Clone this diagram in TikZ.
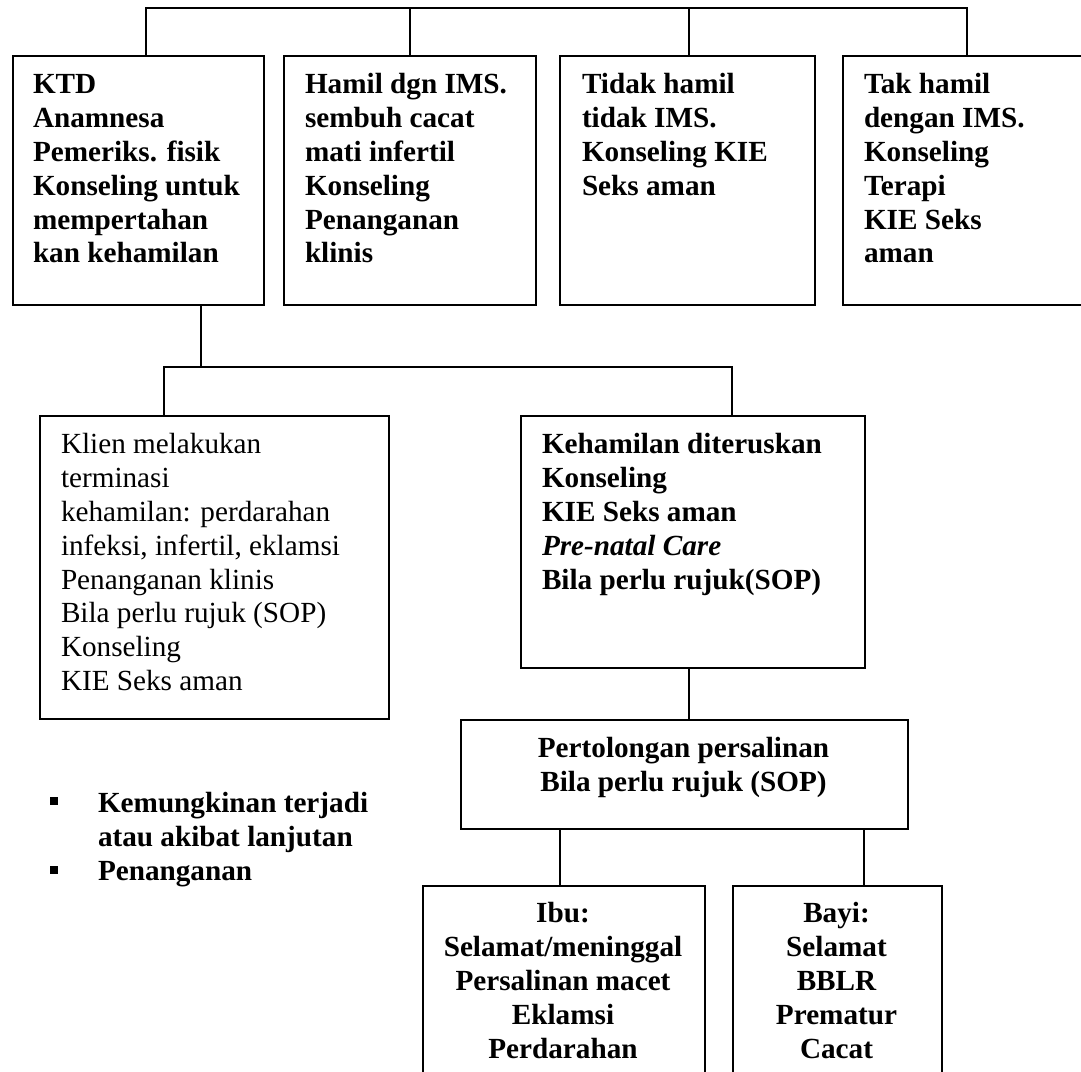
\documentclass[tikz,border=0pt]{standalone}
\usepackage{fontspec}
\setmainfont{Liberation Serif}
\begin{document}
\begin{tikzpicture}[x=1pt, y=-1pt, line width=2pt,
  box/.style={draw, rectangle, inner sep=0pt, anchor=north west},
  txt/.style={inner sep=0pt, align=left, anchor=north west,
    font=\fontsize{29.2}{33.8}\selectfont\bfseries},
  txtc/.style={txt, align=center, anchor=north},
  plain/.style={txt, font=\fontsize{29.2}{33.8}\selectfont},
  sq/.style={fill, rectangle, inner sep=0pt, minimum size=8pt}]
\path[use as bounding box] (0,0) rectangle (1081,1071);
\clip (0,0) rectangle (1081,1071);

% first row
\node[box, minimum width=251pt, minimum height=249pt] (b1) at (12,55) {};
\node[box, minimum width=252pt, minimum height=249pt] (b2) at (283,55) {};
\node[box, minimum width=255pt, minimum height=249pt] (b3) at (559,55) {};
\node[box, minimum width=260pt, minimum height=249pt] (b4) at (842,55) {};
\node[txt] (t1) at (32,69.3) {\strut KTD\\Anamnesa\\Pemeriks. fisik\\Konseling untuk\\mempertahan\\kan kehamilan};
\node[txt] (t2) at (304,69.3) {\strut Hamil dgn IMS.\\sembuh cacat\\mati infertil\\Konseling\\Penanganan\\klinis};
\node[txt] (t3) at (581,69.3) {\strut Tidak hamil\\tidak IMS.\\Konseling KIE\\Seks aman};
\node[txt] (t4) at (863,69.3) {\strut Tak hamil\\dengan IMS.\\Konseling\\Terapi\\KIE Seks\\aman};

% second row
\node[box, minimum width=349pt, minimum height=303pt] (b5) at (39,415) {};
\node[box, minimum width=344pt, minimum height=252pt] (b6) at (520,415) {};
\node[plain] (t5) at (60,429.3) {\strut Klien melakukan\\terminasi\\kehamilan: perdarahan\\infeksi, infertil, eklamsi\\Penanganan klinis\\Bila perlu rujuk (SOP)\\Konseling\\KIE Seks aman};
\node[txt] (t6) at (541,429.3) {\strut Kehamilan diteruskan\\Konseling\\KIE Seks aman\\\textit{Pre-natal Care}\\Bila perlu rujuk(SOP)};

% delivery
\node[box, minimum width=447pt, minimum height=109pt] (b7) at (460,719) {};
\node[txtc] (t7) at (683.5,733.3) {\strut Pertolongan persalinan\\Bila perlu rujuk (SOP)};

% outcomes
\node[box, minimum width=282pt, minimum height=220pt] (b8) at (422,885) {};
\node[box, minimum width=209pt, minimum height=220pt] (b9) at (732,885) {};
\node[txtc] (t8) at (563,898.3) {\strut Ibu:\\Selamat/meninggal\\Persalinan macet\\Eklamsi\\Perdarahan};
\node[txtc] (t9) at (836.5,898.3) {\strut Bayi:\\Selamat\\BBLR\\Prematur\\Cacat};

% legend
\node[sq] (m1) at (54,801) {};
\node[sq] (m2) at (54,870) {};
\node[txt] (l1) at (97,788.3) {\strut Kemungkinan terjadi\\atau akibat lanjutan};
\node[txt] (l2) at (97,856.3) {\strut Penanganan};

% top bus
\coordinate (busL) at (146,7.5);
\coordinate (busR) at (967,7.5);
\draw (b1.north -| busL) -- (busL) -- (busR) -- (b4.north -| busR);
\draw (b2.north) -- (b2.north |- busL);
\draw (b3.north -| 689,0) -- (busL -| 689,0);

% split below the first box
\coordinate (fork) at (201,367);
\coordinate (jL) at (164,367);
\coordinate (jR) at (732,367);
\draw (b1.south -| fork) -- (fork);
\draw (b5.north -| jL) -- (jL) -- (jR) -- (b6.north -| jR);

% continuation and outcomes
\coordinate (c6) at (689,0);
\draw (b6.south -| c6) -- (b7.north -| c6);
\coordinate (c8) at (560,0);
\coordinate (c9) at (864,0);
\draw (b7.south -| c8) -- (b8.north -| c8);
\draw (b7.south -| c9) -- (b9.north -| c9);
\end{tikzpicture}
\end{document}
